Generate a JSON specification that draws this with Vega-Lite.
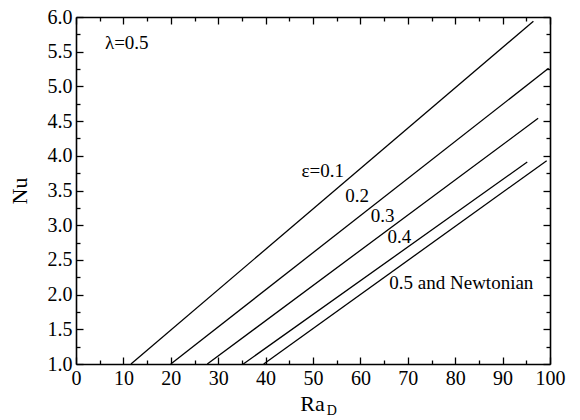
{
  "$schema": "https://vega.github.io/schema/vega-lite/v6.json",
  "width": 474,
  "height": 347,
  "autosize": {"type": "none"},
  "padding": {"left": 76, "top": 17, "right": 30, "bottom": 56},
  "background": "white",
  "config": {
    "view": {"stroke": null},
    "axis": {
      "domainColor": "black", "domainWidth": 1.6,
      "tickColor": "black", "tickWidth": 1.3,
      "labelFont": "Liberation Serif", "labelFontSize": 20, "labelColor": "black",
      "titleFont": "Liberation Serif", "titleFontSize": 22, "titleColor": "black", "titleFontWeight": "normal",
      "grid": false
    }
  },
  "datasets": {
    "lines": [
      {"eps": "0.1", "Ra": 11.6, "Nu": 1.0}, {"eps": "0.1", "Ra": 96.5, "Nu": 5.94},
      {"eps": "0.2", "Ra": 20.0, "Nu": 1.0}, {"eps": "0.2", "Ra": 99.7, "Nu": 5.26},
      {"eps": "0.3", "Ra": 27.7, "Nu": 1.0}, {"eps": "0.3", "Ra": 97.5, "Nu": 4.54},
      {"eps": "0.4", "Ra": 35.3, "Nu": 1.0}, {"eps": "0.4", "Ra": 95.2, "Nu": 3.91},
      {"eps": "0.5", "Ra": 39.6, "Nu": 1.0}, {"eps": "0.5", "Ra": 99.3, "Nu": 3.93}
    ],
    "labels": [
      {"text": "λ=0.5", "Ra": 6.1, "Nu": 5.62},
      {"text": "ε=0.1", "Ra": 47.6, "Nu": 3.78},
      {"text": "0.2", "Ra": 56.8, "Nu": 3.42},
      {"text": "0.3", "Ra": 62.2, "Nu": 3.13},
      {"text": "0.4", "Ra": 65.7, "Nu": 2.83},
      {"text": "0.5 and Newtonian", "Ra": 66.1, "Nu": 2.16}
    ],
    "title": [{"text": "Ra", "Ra": 47.3, "Nu": 0.32}],
    "sub": [{"text": "D", "Ra": 52.9, "Nu": 0.26}]
  },
  "layer": [
    {
      "data": {"name": "lines"},
      "mark": {"type": "line", "color": "black", "strokeWidth": 1.3},
      "encoding": {
        "x": {"field": "Ra", "type": "quantitative",
          "scale": {"domain": [0, 100], "nice": false, "zero": false},
          "axis": {"orient": "bottom", "title": null,
            "values": [0,5,10,15,20,25,30,35,40,45,50,55,60,65,70,75,80,85,90,95,100],
            "labelExpr": "datum.value % 10 == 0 ? datum.label : ''",
            "tickSize": {"condition": {"test": "datum.value % 10 == 0", "value": -7}, "value": -4},
            "labelPadding": 11, "labelFlush": false}},
        "y": {"field": "Nu", "type": "quantitative",
          "scale": {"domain": [1, 6], "nice": false, "zero": false},
          "axis": {"orient": "left", "title": "Nu", "titlePadding": 16, "format": ".1f",
            "values": [1,1.25,1.5,1.75,2,2.25,2.5,2.75,3,3.25,3.5,3.75,4,4.25,4.5,4.75,5,5.25,5.5,5.75,6],
            "labelExpr": "(datum.value * 2) % 1 == 0 ? datum.label : ''",
            "tickSize": {"condition": {"test": "(datum.value * 2) % 1 == 0", "value": -7}, "value": -4},
            "labelPadding": 11, "labelFlush": false}},
        "detail": {"field": "eps"}
      }
    },
    {
      "data": {"name": "labels"},
      "mark": {"type": "text", "font": "Liberation Serif", "fontSize": 19, "align": "left", "baseline": "middle", "color": "black"},
      "encoding": {
        "x": {"field": "Ra", "type": "quantitative",
          "axis": {"orient": "top", "title": null, "labels": false,
            "values": [0,5,10,15,20,25,30,35,40,45,50,55,60,65,70,75,80,85,90,95,100],
            "tickSize": {"condition": {"test": "datum.value % 10 == 0", "value": -7}, "value": -4}}},
        "y": {"field": "Nu", "type": "quantitative",
          "axis": {"orient": "right", "title": null, "labels": false,
            "values": [1,1.25,1.5,1.75,2,2.25,2.5,2.75,3,3.25,3.5,3.75,4,4.25,4.5,4.75,5,5.25,5.5,5.75,6],
            "tickSize": {"condition": {"test": "(datum.value * 2) % 1 == 0", "value": -7}, "value": -4}}},
        "text": {"field": "text"}
      }
    },
    {
      "data": {"name": "title"},
      "mark": {"type": "text", "font": "Liberation Serif", "fontSize": 22, "align": "left", "baseline": "alphabetic", "color": "black"},
      "encoding": {
        "x": {"field": "Ra", "type": "quantitative", "axis": null},
        "y": {"field": "Nu", "type": "quantitative", "axis": null},
        "text": {"field": "text"}
      }
    },
    {
      "data": {"name": "sub"},
      "mark": {"type": "text", "font": "Liberation Serif", "fontSize": 14, "align": "left", "baseline": "alphabetic", "color": "black"},
      "encoding": {
        "x": {"field": "Ra", "type": "quantitative", "axis": null},
        "y": {"field": "Nu", "type": "quantitative", "axis": null},
        "text": {"field": "text"}
      }
    }
  ],
  "resolve": {"axis": {"x": "independent", "y": "independent"}}
}
